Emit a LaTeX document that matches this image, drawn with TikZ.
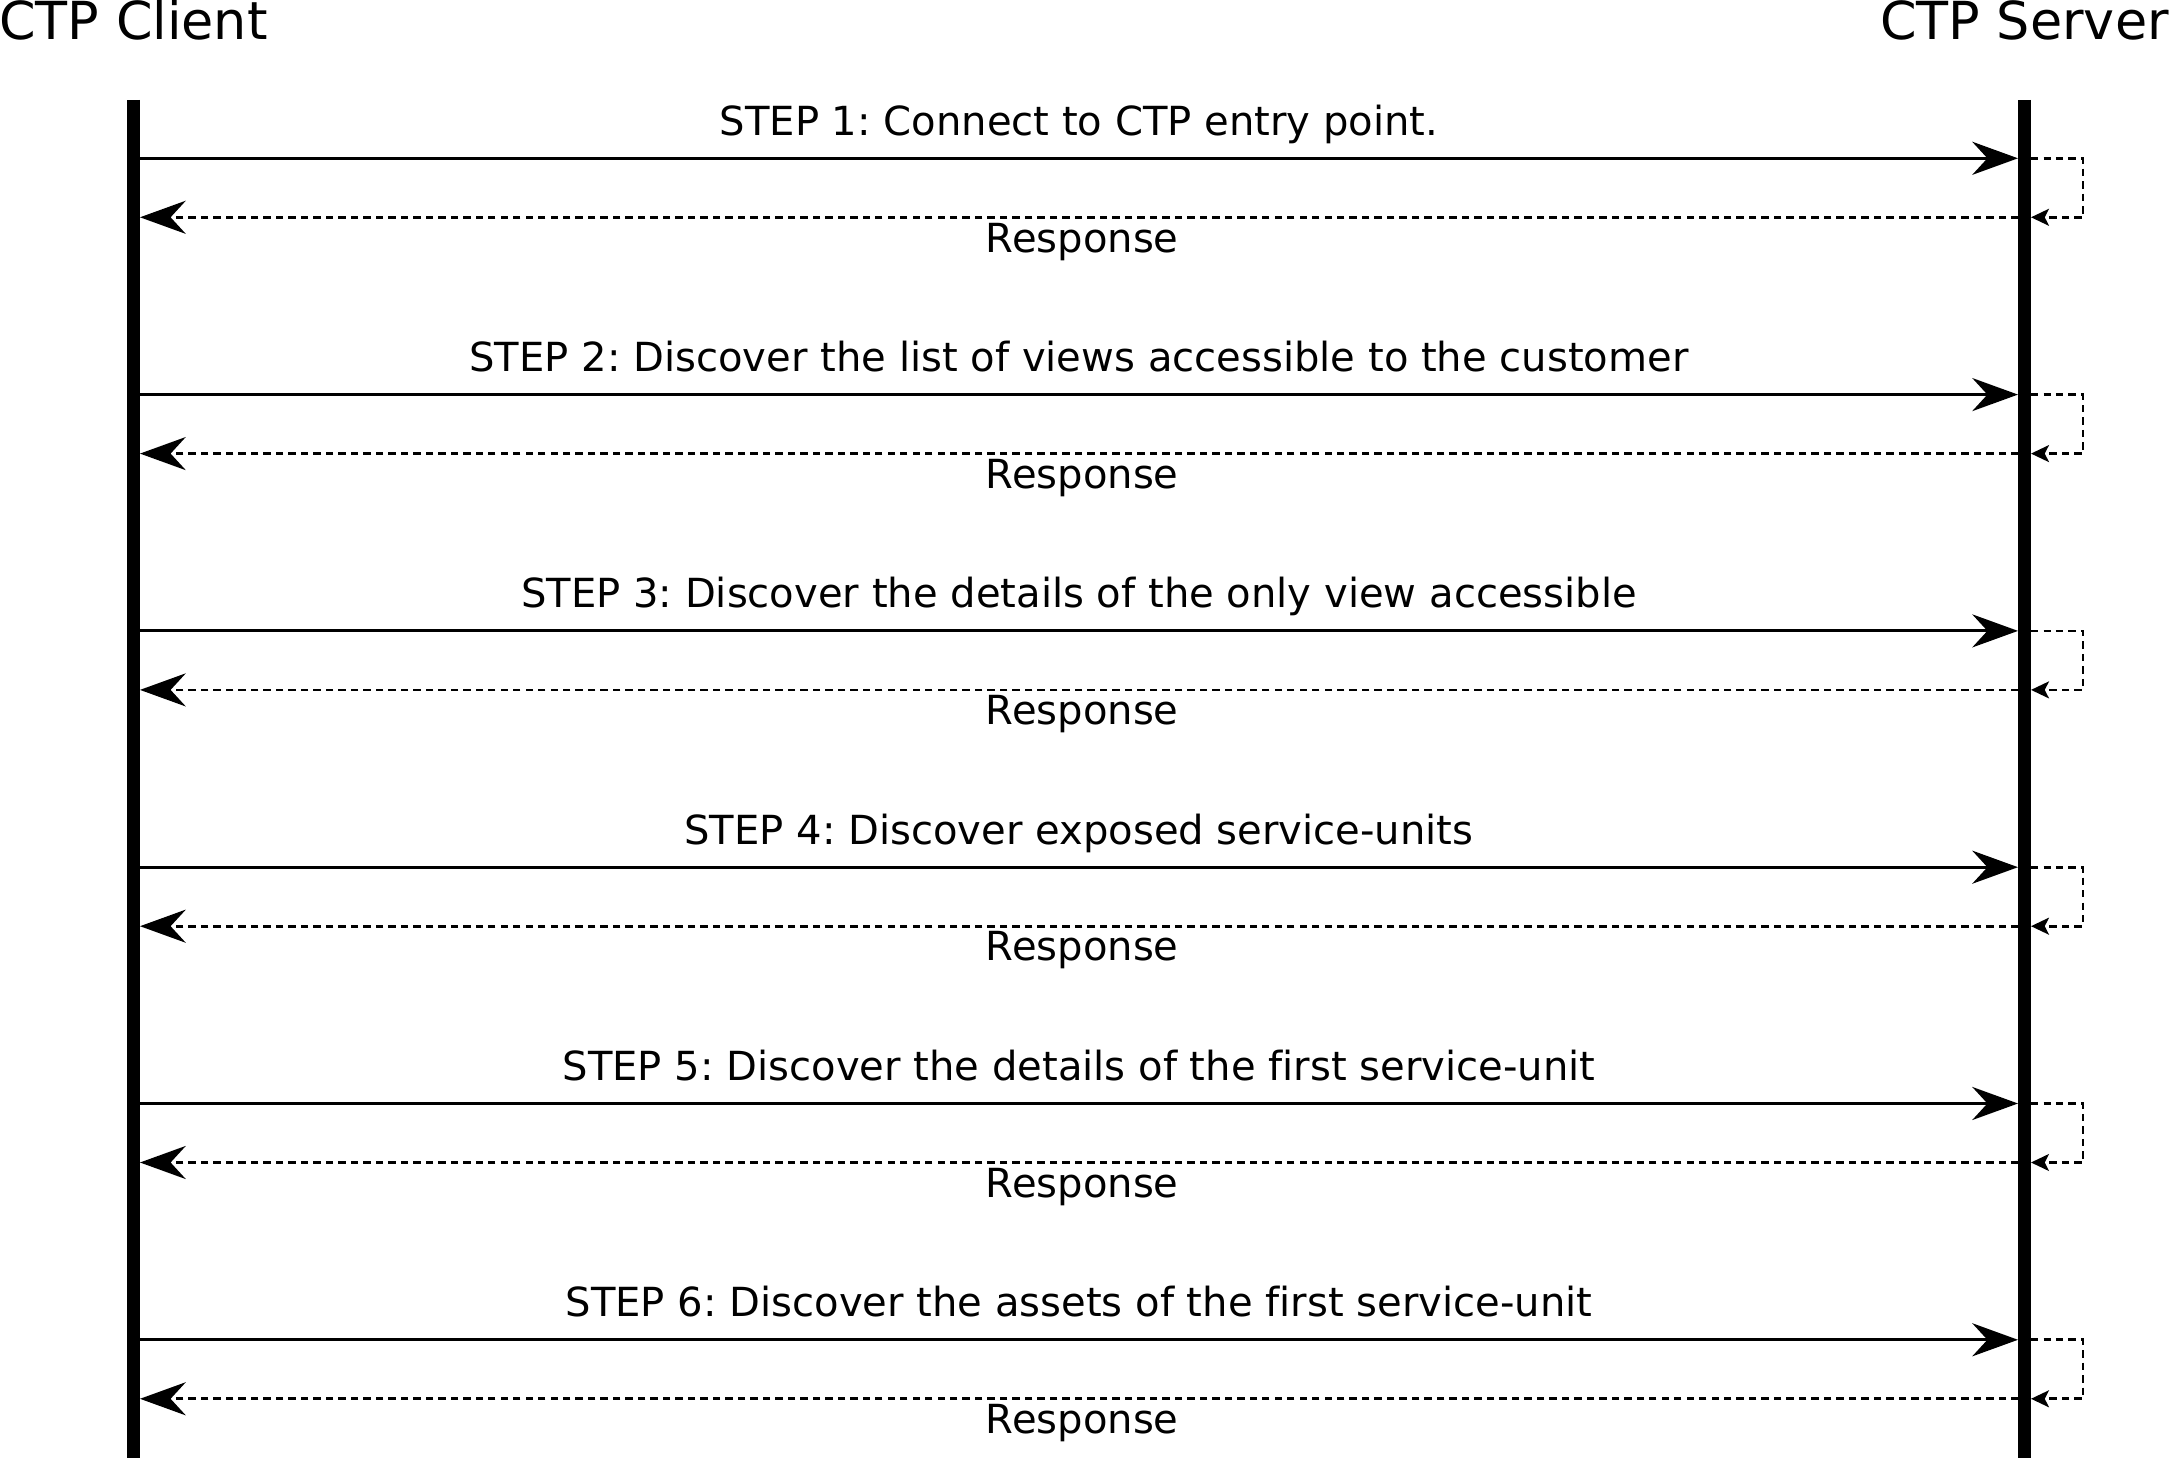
\documentclass[tikz,border=0pt]{standalone}
\usepackage{fontspec}
\setmainfont{DejaVu Sans}[Ligatures=CommonOff]
\frenchspacing
\usetikzlibrary{arrows.meta}
\usetikzlibrary{positioning}

\tikzset{
	lifeline/.style={line width=3.7pt},
	request/.style={line width=0.8pt, -{Stealth[length=13pt, width=9.4pt, inset=4.3pt]}},
	reply/.style={line width=0.75pt, dash pattern=on 2.1pt off 1.45pt, -{Stealth[length=13pt, width=9.4pt, inset=4.3pt]}},
	selfloop/.style={line width=0.75pt, dash pattern=on 2.1pt off 1.45pt, -{Stealth[length=5.1pt, width=4.8pt, inset=1.2pt]}},
	actor/.style={font=\fontsize{14.9}{17}\selectfont, anchor=base, inner sep=0pt},
	msg/.style={font=\fontsize{11.4}{13}\selectfont, anchor=base, inner sep=0pt},
}

\begin{document}
\begin{tikzpicture}[x=0.01cm, y=-0.01cm]
	\useasboundingbox (0,0) rectangle (2171,1458);

	\node[actor] (client) at (133.5,40) {CTP Client};
	\node[actor] (server) at (2024.5,40) {CTP Server};
	\draw[lifeline] (client |- 0,100) -- (client |- 0,1458);
	\draw[lifeline] (server |- 0,100) -- (server |- 0,1458);

	\foreach \txt [count=\i] in {
		{STEP 1: Connect to CTP entry point.},
		{STEP 2: Discover the list of views accessible to the customer},
		{STEP 3: Discover the details of the only view accessible},
		{STEP 4: Discover exposed service-units},
		{STEP 5: Discover the details of the first service-unit},
		{STEP 6: Discover the assets of the first service-unit}}
	{
		\pgfmathsetmacro{\rowy}{158.3+236.3*(\i-1)}
		\coordinate (c\i) at (133.5,\rowy);
		\coordinate (s\i) at (2024.5,\rowy);
		\coordinate (cr\i) at (133.5,\rowy+59);
		\coordinate (sr\i) at (2024.5,\rowy+59);

		\draw[request, shorten >=1.85pt] (c\i) -- (s\i) node[msg, midway, yshift=0.23cm] (step\i) {\txt};
		\draw[selfloop] ([xshift=1.85pt]s\i) -- ++(52,0) |- ([xshift=1.85pt]sr\i);
		\draw[reply, shorten >=1.85pt] ([xshift=1.85pt]sr\i) -- (cr\i) node[msg, midway, yshift=-0.347cm] (resp\i) {Response};
	}
\end{tikzpicture}
\end{document}
